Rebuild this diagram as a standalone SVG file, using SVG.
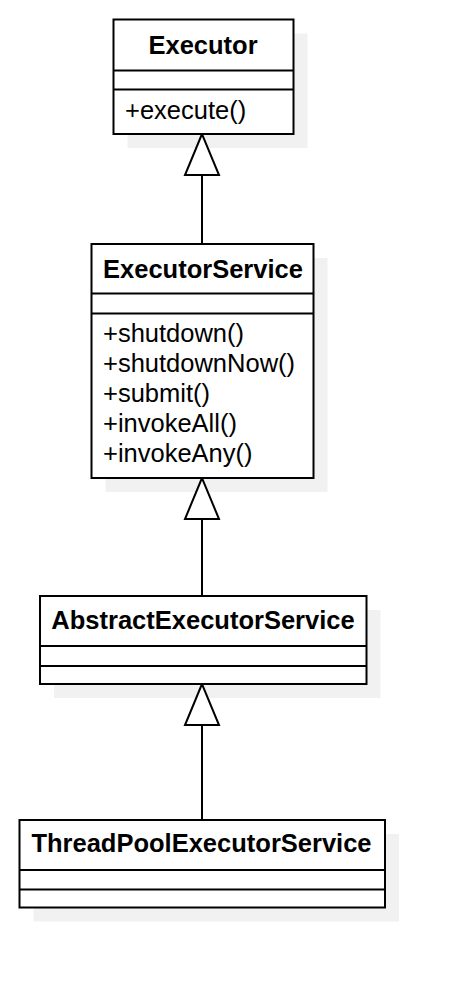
<svg xmlns="http://www.w3.org/2000/svg" width="464" height="988" viewBox="0 0 464 988">
<style>
.shadow{fill:#f1f1f1;stroke:none}
.box{fill:#ffffff;stroke:#000000;stroke-width:2}
.div{stroke:#000000;stroke-width:2}
.title{font-family:"Liberation Sans",Arial,sans-serif;font-weight:bold;font-size:25.5px;text-anchor:middle;fill:#000}
.member{font-family:"Liberation Sans",Arial,sans-serif;font-size:25.5px;fill:#000}
.edge{stroke:#000;stroke-width:2;fill:none}
.tri{fill:#ffffff;stroke:#000;stroke-width:2;stroke-linejoin:miter}
</style>
<rect width="464" height="988" fill="#ffffff"/>
<g id="shadows">
<rect class="shadow" x="127.5" y="33.5" width="180" height="114.5"/>
<rect class="shadow" x="105.5" y="258" width="222" height="234"/>
<rect class="shadow" x="54" y="610" width="326.5" height="88"/>
<rect class="shadow" x="33.5" y="834" width="365.5" height="87.5"/>
</g>
<g id="connectors">
<line class="edge" x1="202" y1="175" x2="202" y2="244"/>
<polygon class="tri" points="202,134 185,175 219,175"/>
<line class="edge" x1="202" y1="519" x2="202" y2="596"/>
<polygon class="tri" points="202,478 185,519 219,519"/>
<line class="edge" x1="202" y1="725" x2="202" y2="820"/>
<polygon class="tri" points="202,684 185,725 219,725"/>
</g>
<g id="Executor">
<rect class="box" x="113.5" y="19.5" width="180" height="114.5"/>
<line class="div" x1="113.5" y1="70.5" x2="293.5" y2="70.5"/>
<line class="div" x1="113.5" y1="89.5" x2="293.5" y2="89.5"/>
<text class="title" x="203" y="54">Executor</text>
<text class="member" x="125" y="118.5">+execute()</text>
</g>
<g id="ExecutorService">
<rect class="box" x="91.5" y="244" width="222" height="234"/>
<line class="div" x1="91.5" y1="293.5" x2="313.5" y2="293.5"/>
<line class="div" x1="91.5" y1="313.5" x2="313.5" y2="313.5"/>
<text class="title" x="203" y="277.5">ExecutorService</text>
<text class="member" x="103" y="342">+shutdown()</text>
<text class="member" x="103" y="372">+shutdownNow()</text>
<text class="member" x="103" y="402">+submit()</text>
<text class="member" x="103" y="432">+invokeAll()</text>
<text class="member" x="103" y="462">+invokeAny()</text>
</g>
<g id="AbstractExecutorService">
<rect class="box" x="40" y="596" width="326.5" height="88"/>
<line class="div" x1="40" y1="646" x2="366.5" y2="646"/>
<line class="div" x1="40" y1="666" x2="366.5" y2="666"/>
<text class="title" x="203" y="628.5">AbstractExecutorService</text>
</g>
<g id="ThreadPoolExecutorService">
<rect class="box" x="19.5" y="820" width="365.5" height="87.5"/>
<line class="div" x1="19.5" y1="870" x2="385" y2="870"/>
<line class="div" x1="19.5" y1="889.5" x2="385" y2="889.5"/>
<text class="title" x="201.5" y="852">ThreadPoolExecutorService</text>
</g>
</svg>
